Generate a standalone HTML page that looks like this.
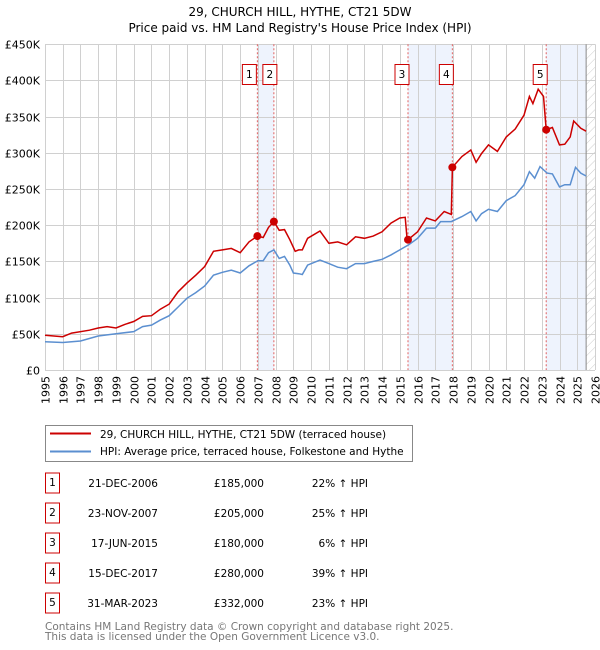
<!DOCTYPE html>
<html><head><meta charset="utf-8"><style>
body{margin:0;background:#fff;}
svg{display:block;font-family:"DejaVu Sans","Liberation Sans",sans-serif;}
</style></head><body>
<svg id="c" width="600" height="650" viewBox="0 0 600 650">
<defs><pattern id="hatch" width="6" height="6" patternUnits="userSpaceOnUse" patternTransform="rotate(45)"><line x1="0" y1="0" x2="0" y2="6" stroke="#ccc" stroke-width="1"/></pattern></defs>
<text x="300" y="16" text-anchor="middle" font-size="12" fill="#000">29, CHURCH HILL, HYTHE, CT21 5DW</text>
<text x="300" y="32" text-anchor="middle" font-size="12" fill="#000">Price paid vs. HM Land Registry's House Price Index (HPI)</text>
<g id="plot"></g>
<g>
<rect x="45.5" y="425.5" width="367" height="36" fill="#fff" stroke="#888"/>
<line x1="50" y1="433.5" x2="91" y2="433.5" stroke="#cc0000" stroke-width="2"/>
<text x="100" y="438" font-size="10.5">29, CHURCH HILL, HYTHE, CT21 5DW (terraced house)</text>
<line x1="50" y1="451.5" x2="91" y2="451.5" stroke="#5b8fd0" stroke-width="2"/>
<text x="100" y="455" font-size="10.5">HPI: Average price, terraced house, Folkestone and Hythe</text>
</g>
<g id="table" font-size="10.5"></g>
<text x="45" y="630" font-size="10.5" fill="#777">Contains HM Land Registry data © Crown copyright and database right 2025.</text>
<text x="45" y="640" font-size="10.5" fill="#777">This data is licensed under the Open Government Licence v3.0.</text>
</svg>
<script>
const hpiT=[1995,1996,1997,1998,1999,2000,2000.5,2001,2001.5,2002,2002.5,2003,2003.5,2004,2004.5,2005,2005.5,2006,2006.5,2007,2007.3,2007.6,2007.9,2008.2,2008.5,2008.8,2009,2009.3,2009.5,2009.8,2010.5,2011,2011.5,2012,2012.5,2013,2013.5,2014,2014.5,2015,2015.5,2016,2016.5,2017,2017.3,2017.9,2018.5,2019,2019.3,2019.6,2020,2020.5,2021,2021.5,2022,2022.3,2022.6,2022.9,2023.3,2023.6,2024,2024.3,2024.6,2024.9,2025.2,2025.5];
const hpiV=[39,38,40,47,50,53,60,62,69,75,87,99,107,116,131,135,138,134,144,151,151,162,166,154,157,145,134,133,132,145,152,147,142,140,147,147,150,153,159,166,173,182,196,196,205,205,212,219,206,216,222,219,234,241,256,274,265,281,272,271,253,256,256,280,272,268];
const propT=[1995,1996,1996.5,1997.5,1998,1998.5,1999,1999.5,2000,2000.5,2001,2001.5,2002,2002.5,2003,2003.5,2004,2004.5,2005,2005.5,2006,2006.5,2006.97,2007.3,2007.6,2007.9,2008.2,2008.5,2008.8,2009.1,2009.3,2009.5,2009.8,2010.5,2011,2011.5,2012,2012.5,2013,2013.5,2014,2014.5,2015,2015.3,2015.4,2015.46,2016,2016.5,2017,2017.5,2017.9,2017.96,2018.5,2019,2019.3,2019.6,2020,2020.5,2021,2021.5,2022,2022.3,2022.5,2022.8,2023.1,2023.25,2023.6,2024,2024.3,2024.6,2024.8,2025.2,2025.5];
const propV=[48,46,51,55,58,60,58,63,67,74,75,84,91,108,120,131,143,164,166,168,162,177,185,183,197,205,193,194,180,164,166,166,182,192,175,177,173,184,182,185,191,203,210,211,184,180,191,210,206,219,215,280,295,304,287,299,311,302,322,333,352,378,368,388,378,332,335,311,312,322,344,334,330];
const saleT=[2006.97,2007.9,2015.46,2017.96,2023.25];
const saleV=[185,205,180,280,332];
const saleLabels=["1","2","3","4","5"];
const saleDates=["21-DEC-2006","23-NOV-2007","17-JUN-2015","15-DEC-2017","31-MAR-2023"];
const salePrices=["£185,000","£205,000","£180,000","£280,000","£332,000"];
const saleHpi=["22% ↑ HPI","25% ↑ HPI","6% ↑ HPI","39% ↑ HPI","23% ↑ HPI"];
const yTicks=[0,50,100,150,200,250,300,350,400,450];
const yTickLabels=["£0","£50K","£100K","£150K","£200K","£250K","£300K","£350K","£400K","£450K"];
const xYears=[1995,1996,1997,1998,1999,2000,2001,2002,2003,2004,2005,2006,2007,2008,2009,2010,2011,2012,2013,2014,2015,2016,2017,2018,2019,2020,2021,2022,2023,2024,2025,2026];
const shadeRanges=[[2006.97,2007.9],[2015.46,2017.96],[2023.25,2025.5]];
const dataEnd=2025.5;

const X0=45,X1=595,Y0=370,Y1=44.3;
const xs=t=>X0+(t-1995)/(2026-1995)*(X1-X0);
const ys=v=>Y0-v/450*(Y0-Y1);
const NS="http://www.w3.org/2000/svg";
const plot=document.getElementById('plot');
function mk(tag,attrs,parent){const e=document.createElementNS(NS,tag);for(const k in attrs)e.setAttribute(k,attrs[k]);(parent||plot).appendChild(e);return e;}

shadeRanges.forEach((r,i)=>{const e=mk('rect',{x:xs(r[0]),y:Y1,width:xs(r[1])-xs(r[0]),height:Y0-Y1,fill:'#eef3fd'});

});
const h=mk('rect',{x:xs(dataEnd),y:Y1,width:X1-xs(dataEnd),height:Y0-Y1,fill:'url(#hatch)'});


xYears.forEach(t=>{const x=Math.round(xs(t))+0.5;const l=mk('line',{x1:x,x2:x,y1:Y1,y2:Y0,stroke:'#d0d0d0'});


const tx=mk('text',{x:0,y:0,'font-size':11,'text-anchor':'end',transform:`translate(${x+4},${Y0+6}) rotate(-90)`});tx.textContent=t;

});
yTicks.forEach((v,i)=>{const y=Math.round(ys(v))+0.5;const l=mk('line',{x1:X0,x2:X1,y1:y,y2:y,stroke:'#d0d0d0'});


const tx=mk('text',{x:X0-5,y:y+4,'font-size':11,'text-anchor':'end'});tx.textContent=yTickLabels[i];

});
const ln=mk('line',{x1:xs(dataEnd),x2:xs(dataEnd),y1:Y1,y2:Y0,stroke:'#888'});


saleT.forEach((t,i)=>{const x=xs(t);const l=mk('line',{x1:x,x2:x,y1:Y1,y2:Y0,stroke:'#e06060','stroke-dasharray':'2,2'});


const g=mk('g',{});


const bx=(i===0)?x-8:(i===1)?x-4:x-6;
mk('rect',{x:bx-7,y:64.5,width:14,height:20,fill:'#fff',stroke:'#cc0000'},g);
const tx=mk('text',{x:bx,y:78,'font-size':10.5,'text-anchor':'middle'},g);tx.textContent=saleLabels[i];});
const path=(T,V)=>T.map((t,i)=>(i?'L':'M')+xs(t).toFixed(1)+','+ys(V[i]).toFixed(1)).join('');
const hp=mk('path',{d:path(hpiT,hpiV),fill:'none',stroke:'#5b8fd0','stroke-width':1.5});


const pp=mk('path',{d:path(propT,propV),fill:'none',stroke:'#cc0000','stroke-width':1.5});


saleT.forEach((t,i)=>{const c=mk('circle',{cx:xs(t),cy:ys(saleV[i]),r:4,fill:'#cc0000'});

});

const tb=document.getElementById('table');
saleLabels.forEach((s,i)=>{const cy=483+i*30;
const g=mk('g',{},tb);


mk('rect',{x:45.5,y:cy-10,width:14,height:20,fill:'#fff',stroke:'#cc0000'},g);
let t=mk('text',{x:52.5,y:cy+3,'text-anchor':'middle'},g);t.textContent=s;
t=mk('text',{x:158,y:cy+4,'text-anchor':'end'},g);t.textContent=saleDates[i];
t=mk('text',{x:264,y:cy+4,'text-anchor':'end'},g);t.textContent=salePrices[i];
t=mk('text',{x:368,y:cy+4,'text-anchor':'end'},g);t.textContent=saleHpi[i];});
</script>
</body></html>
